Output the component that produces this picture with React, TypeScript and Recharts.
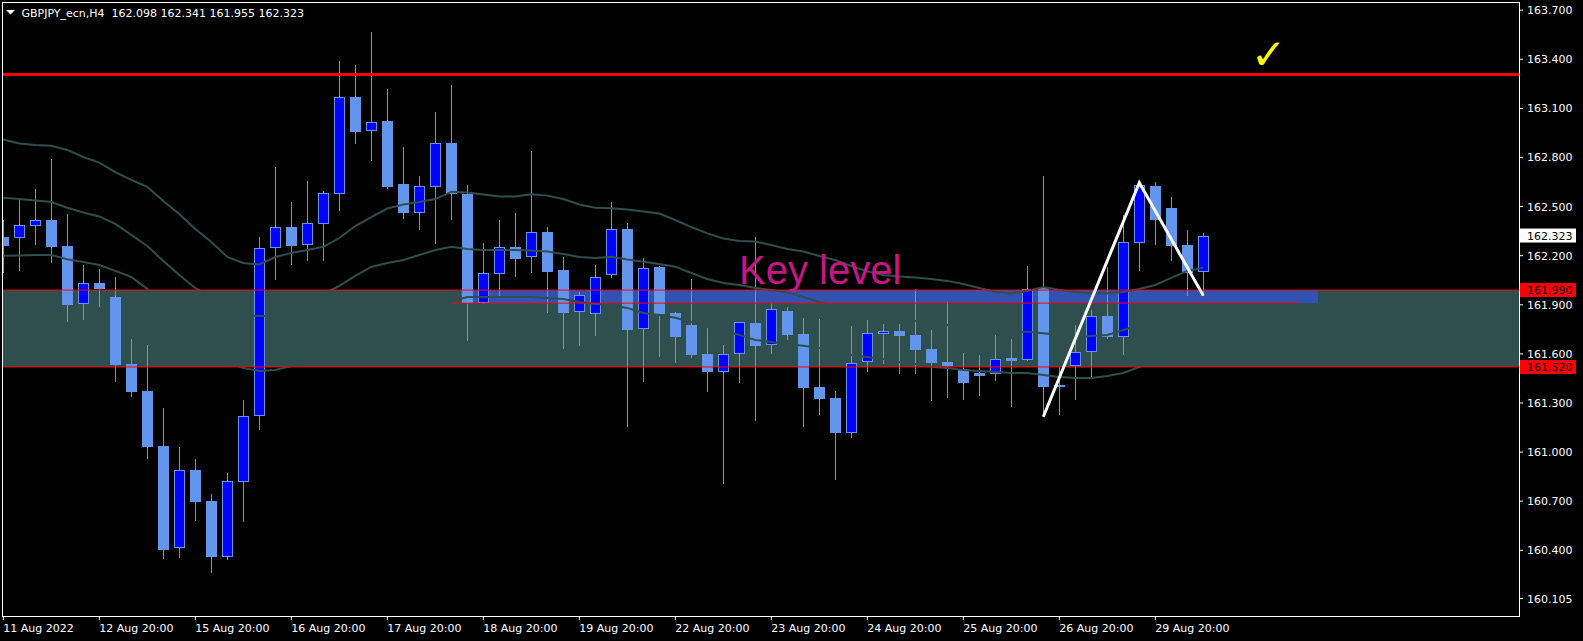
import React from "react";
import {
  ComposedChart,
  Bar,
  Line,
  XAxis,
  YAxis,
  ReferenceArea,
  ReferenceLine,
  ReferenceDot,
} from "recharts";

// GBPJPY H4 candles, one per bar index (oldest first)
const OPEN = [
  162.316, 162.306, 162.383, 162.418, 162.259, 161.903, 162.033, 161.948, 161.538, 161.373,
  161.037, 160.412, 160.891, 160.701, 160.356, 160.819, 161.218, 162.25, 162.375, 162.268,
  162.396, 162.579, 163.169, 162.964, 163.022, 162.639, 162.462, 162.618, 162.889, 162.577,
  161.913, 162.086, 162.251, 162.19, 162.345, 162.113, 161.854, 161.842, 162.08, 162.363,
  161.75, 162.129, 161.848, 161.777, 161.6, 161.488, 161.598, 161.789, 161.653, 161.862,
  161.722, 161.398, 161.331, 161.115, 161.552, 161.72, 161.74, 161.716, 161.63, 161.551,
  161.508, 161.481, 161.475, 161.573, 161.561, 162.001, 161.396, 161.526, 161.61, 161.832,
  161.701, 162.276, 162.626, 162.491, 162.265, 162.098,
];
const HIGH = [
  162.418, 162.546, 162.608, 162.791, 162.453, 162.143, 162.119, 162.07, 161.691, 161.654,
  161.27, 161.031, 160.958, 160.744, 160.875, 161.316, 162.314, 162.741, 162.528, 162.656,
  162.593, 163.389, 163.365, 163.566, 163.219, 162.864, 162.686, 163.076, 163.243, 162.63,
  162.278, 162.418, 162.461, 162.84, 162.375, 162.192, 161.978, 162.141, 162.528, 162.398,
  162.184, 162.14, 161.856, 162.058, 161.77, 161.654, 161.797, 162.312, 161.909, 161.888,
  161.821, 161.813, 161.373, 161.77, 161.807, 161.783, 161.783, 161.997, 161.746, 161.917,
  161.606, 161.593, 161.716, 161.691, 162.137, 162.687, 161.522, 161.777, 161.868, 162.133,
  162.449, 162.646, 162.65, 162.559, 162.357, 162.341,
];
const LOW = [
  162.096, 162.108, 162.265, 162.157, 161.797, 161.807, 161.888, 161.43, 161.339, 160.958,
  160.349, 160.355, 160.581, 160.264, 160.34, 160.574, 161.138, 162.054, 162.143, 162.169,
  162.169, 162.473, 162.883, 162.778, 162.61, 162.425, 162.357, 162.273, 162.42, 161.681,
  161.905, 161.95, 162.072, 162.096, 161.852, 161.632, 161.65, 161.711, 162.066, 161.155,
  161.427, 161.583, 161.546, 161.577, 161.369, 160.803, 161.42, 161.192, 161.601, 161.687,
  161.155, 161.227, 160.831, 161.084, 161.491, 161.537, 161.479, 161.479, 161.314, 161.332,
  161.32, 161.345, 161.436, 161.277, 161.555, 161.216, 161.227, 161.318, 161.451, 161.691,
  161.593, 162.108, 162.265, 162.169, 161.956, 161.955,
];
const CLOSE = [
  162.259, 162.386, 162.418, 162.255, 161.901, 162.031, 161.998, 161.534, 161.369, 161.033,
  160.404, 160.889, 160.697, 160.361, 160.821, 161.218, 162.25, 162.375, 162.261, 162.399,
  162.582, 163.169, 162.955, 163.014, 162.619, 162.462, 162.625, 162.887, 162.575, 161.913,
  162.093, 162.251, 162.182, 162.343, 162.102, 161.852, 161.958, 162.068, 162.361, 161.748,
  162.123, 161.846, 161.705, 161.593, 161.491, 161.598, 161.793, 161.65, 161.873, 161.717,
  161.394, 161.325, 161.119, 161.543, 161.726, 161.738, 161.711, 161.626, 161.546, 161.526,
  161.424, 161.467, 161.567, 161.558, 161.995, 161.4, 161.408, 161.61, 161.83, 161.701,
  162.282, 162.63, 162.418, 162.261, 162.096, 162.323,
];

// bands indicator (upper / middle / lower)
const BB_UP = [
  162.91, 162.886, 162.876, 162.872, 162.846, 162.803, 162.769, 162.711, 162.663, 162.62,
  162.534, 162.455, 162.363, 162.284, 162.192, 162.155, 162.146, 162.192, 162.217, 162.235,
  162.254, 162.308, 162.381, 162.436, 162.488, 162.513, 162.528, 162.546, 162.591, 162.586,
  162.574, 162.561, 162.561, 162.575, 162.567, 162.546, 162.513, 162.493, 162.49, 162.482,
  162.47, 162.458, 162.418, 162.375, 162.336, 162.305, 162.29, 162.287, 162.265, 162.241,
  162.226, 162.198, 162.174, 162.137, 162.104, 162.082, 162.073, 162.067, 162.058, 162.046,
  162.027, 162.003, 161.978, 161.969, 161.984, 162.009, 161.99, 161.978, 161.97, 161.97,
  161.978, 161.997, 162.021, 162.064, 162.107, 162.127,
];
const BB_MID = [
  162.554, 162.547, 162.537, 162.528, 162.493, 162.464, 162.44, 162.394, 162.327, 162.259,
  162.168, 162.082, 162.003, 161.942, 161.87, 161.835, 161.832, 161.832, 161.856, 161.899,
  161.966, 162.015, 162.076, 162.131, 162.155, 162.174, 162.204, 162.235, 162.255, 162.241,
  162.235, 162.235, 162.235, 162.232, 162.226, 162.21, 162.192, 162.186, 162.194, 162.177,
  162.163, 162.149, 162.133, 162.094, 162.058, 162.033, 162.021, 162.003, 161.99, 161.975,
  161.948, 161.917, 161.893, 161.868, 161.85, 161.832, 161.813, 161.801, 161.789, 161.777,
  161.764, 161.752, 161.74, 161.734, 161.736, 161.726, 161.716, 161.705, 161.71, 161.716,
  161.746, 161.777, 161.807, 161.838, 161.862, 161.874,
];
const BB_LOW = [
  162.2, 162.201, 162.204, 162.204, 162.178, 162.162, 162.143, 162.107, 162.07, 161.997,
  161.801, 161.709, 161.642, 161.6, 161.551, 161.514, 161.496, 161.502, 161.526, 161.563,
  161.679, 161.722, 161.77, 161.826, 161.822, 161.835, 161.88, 161.923, 161.919, 161.948,
  161.948, 161.948, 161.948, 161.948, 161.942, 161.935, 161.917, 161.905, 161.899, 161.881,
  161.85, 161.838, 161.821, 161.795, 161.764, 161.74, 161.716, 161.685, 161.673, 161.661,
  161.65, 161.636, 161.612, 161.593, 161.581, 161.569, 161.55, 161.538, 161.522, 161.514,
  161.502, 161.496, 161.489, 161.483, 161.483, 161.471, 161.459, 161.453, 161.453, 161.465,
  161.483, 161.52, 161.569, 161.593, 161.612, 161.624,
];

// hand drawn zigzag: low -> high -> low
const ZIG_K = [65, 71, 75];
const ZIG_P = [161.216, 162.646, 161.956];

const TICK_KS = [0, 6, 12, 18, 24, 30, 36, 42, 48, 54, 60, 66, 72];
const TICK_LABELS = [
  "11 Aug 2022", "12 Aug 20:00", "15 Aug 20:00", "16 Aug 20:00", "17 Aug 20:00",
  "18 Aug 20:00", "19 Aug 20:00", "22 Aug 20:00", "23 Aug 20:00", "24 Aug 20:00",
  "25 Aug 20:00", "26 Aug 20:00", "29 Aug 20:00",
];
const PRICE_TICKS = [
  163.7, 163.4, 163.1, 162.8, 162.5, 162.2, 161.9, 161.6, 161.3, 161.0, 160.7, 160.4, 160.105,
];

const RESISTANCE = 163.307;
const ZONE_TOP = 161.99;
const ZONE_BOTTOM = 161.52;
const KEY_LINE = 161.91;

const BULL = "#0000ff";
const BEAR = "#6495ed";
const SLATE = "#2f4f4f";
const FONT = "DejaVu Sans, sans-serif";

const rows = OPEN.map((o, k) => {
  const zi = ZIG_K.indexOf(k);
  return {
    k,
    open: o,
    high: HIGH[k],
    low: LOW[k],
    close: CLOSE[k],
    upper: BB_UP[k],
    mid: BB_MID[k],
    lower: BB_LOW[k],
    zig: zi >= 0 ? ZIG_P[zi] : null,
  };
});

const last = rows[rows.length - 1];

const Candle = (props: any) => {
  const { x, y, width, height, payload } = props;
  if (x == null || !payload) return null;
  const y0 = Math.min(y, y + height);
  const h = Math.abs(height);
  const { open, high, low, close } = payload;
  const span = high - low || 1;
  const py = (p: number) => y0 + ((high - p) / span) * h;
  const cx = Math.floor(x + width / 2);
  const top = Math.round(py(Math.max(open, close)));
  const bot = Math.max(top + 1, Math.round(py(Math.min(open, close))));
  return (
    <g>
      <line x1={cx + 0.5} x2={cx + 0.5} y1={Math.round(y0)} y2={Math.round(y0 + h)} stroke={BEAR} />
      {close > open ? (
        <rect x={cx - 4.5} y={top + 0.5} width={10} height={Math.max(0, bot - top - 1)} fill={BULL} stroke={BEAR} />
      ) : (
        <rect x={cx - 5} y={top} width={11} height={bot - top} fill={BEAR} />
      )}
    </g>
  );
};

const XTick = (props: any) => {
  const { x, y, payload } = props;
  const i = TICK_KS.indexOf(payload.value);
  return (
    <text x={x} y={y + 12} fill="#fff" fontSize={11} fontFamily={FONT} textAnchor="start">
      {i >= 0 ? TICK_LABELS[i] : ""}
    </text>
  );
};

const YTick = (props: any) => {
  const { x, y, payload } = props;
  return (
    <text x={x} y={y + 4} fill="#fff" fontSize={11} fontFamily={FONT} textAnchor="start">
      {Number(payload.value).toFixed(3)}
    </text>
  );
};

const priceBox = (bg: string, fg: string, value: number) => (props: any) => {
  const vb = props.viewBox || {};
  const x = vb.x + vb.width + 1;
  const y = vb.y;
  return (
    <g>
      <rect x={x} y={y - 7} width={56} height={14} fill={bg} />
      <text x={x + 7} y={y + 4} fill={fg} fontSize={11} fontFamily={FONT}>
        {value.toFixed(3)}
      </text>
    </g>
  );
};

const App = () => {
  return (
    <div style={{ position: "relative", width: 1583, height: 641, background: "#000" }}>
      <style>{`body{margin:0;background:#000}`}</style>
      <ComposedChart
        width={1583}
        height={641}
        data={rows}
        margin={{ top: 2, right: 0, left: 2, bottom: 0 }}
      >
        <XAxis
          dataKey="k"
          type="number"
          domain={[-0.08125, 94.73125]}
          allowDataOverflow
          ticks={TICK_KS}
          tick={<XTick />}
          tickSize={4}
          tickMargin={0}
          height={25}
          axisLine={false}
          tickLine={{ stroke: "#fff" }}
          interval={0}
        />
        <YAxis
          orientation="right"
          type="number"
          domain={[159.9985, 163.75]}
          allowDataOverflow
          ticks={PRICE_TICKS}
          tick={<YTick />}
          tickSize={4}
          tickMargin={4}
          width={64}
          axisLine={false}
          tickLine={{ stroke: "#fff" }}
          interval={0}
        />
        <ReferenceArea y1={ZONE_BOTTOM} y2={ZONE_TOP} fill={SLATE} fillOpacity={1} stroke="none" />
        <ReferenceArea x1={28.6} x2={82.17} y1={KEY_LINE} y2={ZONE_TOP} fill="#3152b0" fillOpacity={1} stroke="none" />
        <Bar
          dataKey={(d: any) => [d.low, d.high]}
          barSize={10}
          shape={<Candle />}
          isAnimationActive={false}
        />
        <Line dataKey="upper" type="linear" stroke={SLATE} strokeWidth={2} dot={false} isAnimationActive={false} />
        <Line dataKey="mid" type="linear" stroke={SLATE} strokeWidth={2} dot={false} isAnimationActive={false} />
        <Line dataKey="lower" type="linear" stroke={SLATE} strokeWidth={2} dot={false} isAnimationActive={false} />
        <ReferenceLine y={RESISTANCE} stroke="#ff0000" strokeWidth={3} />
        <ReferenceLine y={ZONE_TOP} stroke="#ff0000" strokeWidth={1} label={priceBox("#ff0000", "#000", ZONE_TOP)} />
        <ReferenceLine y={ZONE_BOTTOM} stroke="#ff0000" strokeWidth={1} label={priceBox("#ff0000", "#000", ZONE_BOTTOM)} />
        <ReferenceLine
          segment={[{ x: 28, y: KEY_LINE }, { x: 81, y: KEY_LINE }]}
          stroke="#ff0000"
          strokeWidth={1}
        />
        <ReferenceLine
          y={last.close}
          stroke="#000"
          strokeOpacity={0}
          label={priceBox("#ffffff", "#000", last.close)}
        />
        <Line
          dataKey="zig"
          type="linear"
          stroke="#ffffff"
          strokeWidth={3}
          dot={false}
          connectNulls
          isAnimationActive={false}
        />
        <ReferenceDot
          x={45.98}
          y={162.027}
          r={0}
          fillOpacity={0}
          stroke="none"
          label={(p: any) => (
            <text x={p.viewBox.x} y={p.viewBox.y} fill="#c71585" fontSize={40} fontFamily="Liberation Sans, Arial, sans-serif">
              Key level
            </text>
          )}
        />
        <ReferenceDot
          x={77.98}
          y={163.341}
          r={0}
          fillOpacity={0}
          stroke="none"
          label={(p: any) => (
            <text
              x={p.viewBox.x}
              y={p.viewBox.y}
              fill="#ffff00"
              fontSize={42}
              fontWeight="bold"
              fontFamily={FONT}
            >
              ✓
            </text>
          )}
        />
      </ComposedChart>
      <div
        style={{
          position: "absolute",
          left: 2,
          top: 2,
          width: 1518,
          height: 615,
          boxSizing: "border-box",
          border: "1px solid #fff",
          pointerEvents: "none",
        }}
      />
      <svg width={420} height={22} style={{ position: "absolute", left: 0, top: 0 }}>
        <polygon points="6,10 15,10 10.5,14.5" fill="#fff" />
        <text x={21.5} y={16.5} fill="#fff" fontSize={11} fontFamily={FONT} xmlSpace="preserve">
          {`GBPJPY_ecn,H4  ${last.open.toFixed(3)} ${last.high.toFixed(3)} ${last.low.toFixed(3)} ${last.close.toFixed(3)}`}
        </text>
      </svg>
    </div>
  );
};

export default App;
